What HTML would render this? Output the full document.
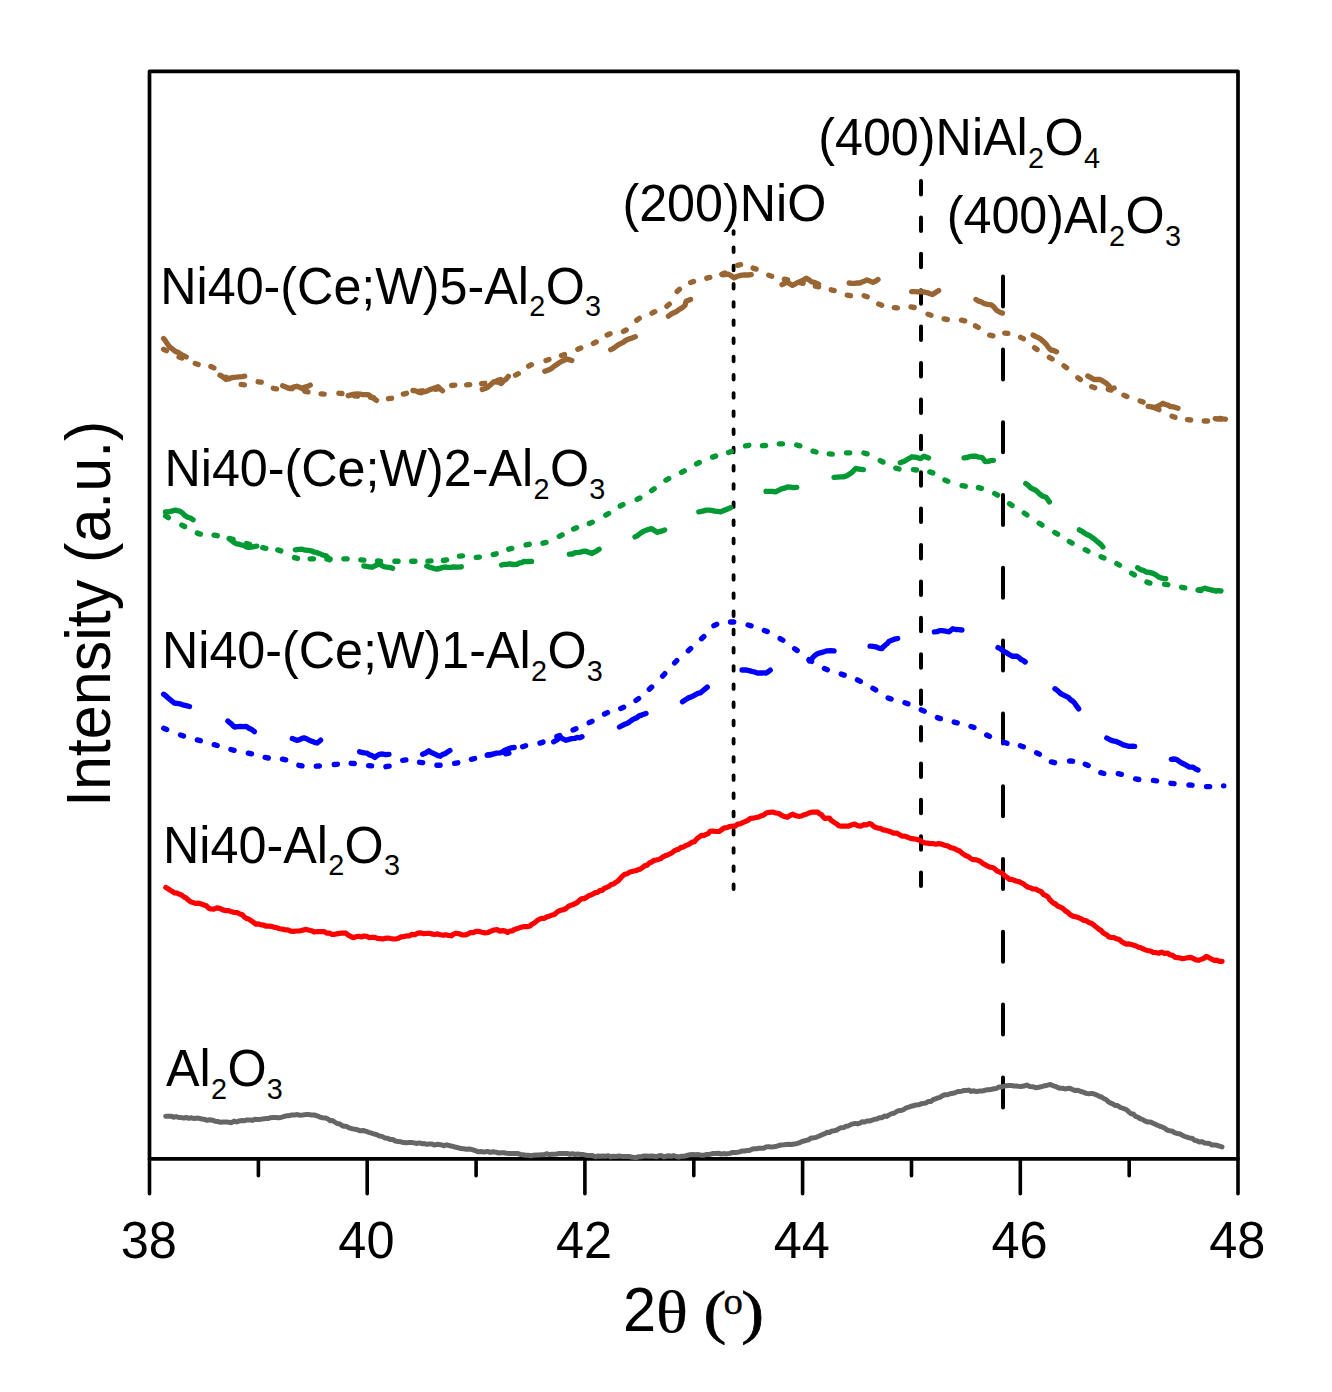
<!DOCTYPE html>
<html><head><meta charset="utf-8"><style>
html,body{margin:0;padding:0;background:#fff;}
svg{display:block;}
.t{font-family:"Liberation Sans",sans-serif;font-size:50.5px;fill:#000;}
.l{font-family:"Liberation Sans",sans-serif;fill:#000;}
.yt{font-family:"Liberation Sans",sans-serif;font-size:61px;fill:#000;}
.xt{font-family:"Liberation Sans",sans-serif;fill:#000;}
.serif{font-family:"Liberation Serif",serif;fill:#000;}
</style></head><body>
<svg width="1332" height="1392" viewBox="0 0 1332 1392">
<rect width="1332" height="1392" fill="#fff"/>
<rect x="149.5" y="71.3" width="1088.5" height="1087.6000000000001" fill="none" stroke="#000" stroke-width="3.7" stroke-linejoin="round"/>
<line x1="149.5" y1="1158.9" x2="149.5" y2="1193.7" stroke="#000" stroke-width="3.6" stroke-linecap="round"/>
<line x1="258.4" y1="1158.9" x2="258.4" y2="1175.7" stroke="#000" stroke-width="3.6" stroke-linecap="round"/>
<line x1="367.2" y1="1158.9" x2="367.2" y2="1193.7" stroke="#000" stroke-width="3.6" stroke-linecap="round"/>
<line x1="476.1" y1="1158.9" x2="476.1" y2="1175.7" stroke="#000" stroke-width="3.6" stroke-linecap="round"/>
<line x1="584.9" y1="1158.9" x2="584.9" y2="1193.7" stroke="#000" stroke-width="3.6" stroke-linecap="round"/>
<line x1="693.8" y1="1158.9" x2="693.8" y2="1175.7" stroke="#000" stroke-width="3.6" stroke-linecap="round"/>
<line x1="802.6" y1="1158.9" x2="802.6" y2="1193.7" stroke="#000" stroke-width="3.6" stroke-linecap="round"/>
<line x1="911.5" y1="1158.9" x2="911.5" y2="1175.7" stroke="#000" stroke-width="3.6" stroke-linecap="round"/>
<line x1="1020.3" y1="1158.9" x2="1020.3" y2="1193.7" stroke="#000" stroke-width="3.6" stroke-linecap="round"/>
<line x1="1129.2" y1="1158.9" x2="1129.2" y2="1175.7" stroke="#000" stroke-width="3.6" stroke-linecap="round"/>
<line x1="1238.0" y1="1158.9" x2="1238.0" y2="1193.7" stroke="#000" stroke-width="3.6" stroke-linecap="round"/>
<text transform="translate(148.7,1258) scale(1,1.04)" text-anchor="middle" class="t">38</text>
<text transform="translate(366.4,1258) scale(1,1.04)" text-anchor="middle" class="t">40</text>
<text transform="translate(584.1,1258) scale(1,1.04)" text-anchor="middle" class="t">42</text>
<text transform="translate(801.8,1258) scale(1,1.04)" text-anchor="middle" class="t">44</text>
<text transform="translate(1019.5,1258) scale(1,1.04)" text-anchor="middle" class="t">46</text>
<text transform="translate(1237.2,1258) scale(1,1.04)" text-anchor="middle" class="t">48</text>
<line x1="733.6" y1="231.1" x2="733.6" y2="889" stroke="#000" stroke-width="3.8" stroke-dasharray="4.6 13.6" stroke-dashoffset="1.8" stroke-linecap="round"/>
<line x1="921" y1="181" x2="921" y2="886" stroke="#000" stroke-width="4" stroke-dasharray="13.5 22.9" stroke-linecap="round"/>
<line x1="1003" y1="276.6" x2="1003" y2="1108" stroke="#000" stroke-width="4" stroke-dasharray="30 42.8" stroke-linecap="round"/>
<path d="M163.6,349.3 L166.4,350.7 M179.0,356.9 L182.0,358.1 M195.2,363.5 L198.2,364.5 M210.9,366.5 L213.9,367.9 M226.2,377.2 L229.0,378.8 M241.2,384.4 L244.4,384.8 M258.1,381.8 L261.3,382.2 M273.3,388.3 L276.5,388.9 M288.9,388.3 L292.1,388.7 M304.8,391.3 L308.0,391.9 M321.0,393.9 L324.2,394.1 M338.8,393.3 L342.0,393.5 M354.4,395.8 L357.6,396.2 M370.4,397.4 L373.6,397.6 M388.4,398.7 L391.6,398.3 M403.3,394.1 L406.5,393.3 M419.4,391.2 L422.6,390.8 M435.4,389.3 L438.6,388.7 M451.6,385.5 L454.8,385.1 M466.6,384.8 L469.8,384.6 M481.6,383.7 L484.8,383.3 M497.5,380.4 L500.5,379.6 M515.5,375.1 L518.3,373.7 M528.6,366.1 L531.4,364.7 M546.0,360.5 L549.0,359.5 M561.5,355.5 L564.5,354.5 M577.8,349.2 L580.8,348.0 M593.4,343.4 L596.2,342.0 M607.1,334.9 L610.1,333.7 M623.4,331.4 L626.2,330.0 M636.7,320.2 L639.3,318.4 M652.0,313.1 L654.8,311.7 M666.9,306.3 L669.3,304.1 M677.1,291.5 L679.5,289.3 M690.6,282.6 L693.6,281.4 M706.8,278.2 L709.8,277.4 M721.8,274.2 L724.8,273.0 M737.4,265.3 L740.6,264.7 M753.1,268.1 L756.1,269.1 M768.7,275.3 L771.7,276.3 M784.4,279.1 L787.6,279.9 M799.9,282.6 L803.1,283.4 M815.4,286.1 L818.6,286.9 M831.2,289.8 L834.2,290.6 M847.3,295.1 L850.5,295.7 M864.2,295.7 L867.2,296.7 M878.7,304.1 L881.7,305.3 M894.2,307.7 L897.4,307.9 M911.0,306.9 L914.2,307.5 M928.0,314.2 L931.0,315.2 M944.1,318.9 L947.3,319.5 M961.5,320.1 L964.7,320.9 M975.5,325.9 L978.3,327.5 M989.7,335.1 L992.9,335.9 M1004.7,333.2 L1007.9,333.4 M1020.6,337.3 L1023.4,338.7 M1034.5,347.7 L1037.1,349.5 M1049.4,357.4 L1052.2,359.0 M1064.0,365.9 L1066.6,367.7 M1077.8,377.7 L1080.4,379.5 M1091.7,386.7 L1094.7,387.7 M1108.2,389.3 L1111.2,390.1 M1123.9,395.2 L1126.9,396.4 M1140.1,400.9 L1143.1,402.1 M1156.1,408.3 L1158.9,409.7 M1172.0,416.3 L1175.0,417.3 M1187.5,419.6 L1190.7,420.0 M1204.3,421.0 L1207.5,421.0 M1220.9,419.0 L1221.1,419.0" fill="none" stroke="#996633" stroke-width="5.35" stroke-linecap="round" stroke-linejoin="round"/>
<path d="M163.6,338.6 L165.1,340.3 L166.6,342.7 L168.1,344.8 L169.6,346.9 L172.4,349.0 L175.3,351.4 L177.5,352.1 L179.8,353.6 L182.0,354.8 L186.2,356.9 M220.0,375.2 L223.0,376.9 L226.0,379.5 L228.6,378.7 L231.2,377.8 L233.8,377.3 L236.5,377.1 L239.3,376.8 L242.0,376.6 L244.7,376.2 M282.6,385.8 L285.1,386.7 L287.5,387.7 L290.0,388.6 L293.4,387.2 L296.9,386.3 L299.5,387.2 L302.2,388.6 L304.9,387.0 L307.6,386.4 L310.3,385.1 M348.2,395.7 L351.3,394.9 L354.4,394.2 L357.5,394.0 L360.2,394.2 L362.9,394.6 L365.6,394.7 L368.3,394.6 L370.3,396.2 L372.4,397.7 L374.4,398.8 L376.5,400.4 M413.0,390.5 L415.7,390.9 L418.4,392.2 L421.1,392.8 L423.9,391.8 L426.7,391.2 L429.5,389.8 L432.3,388.9 L435.2,387.7 L438.0,386.8 L440.2,388.9 L442.5,390.8 M482.3,389.4 L485.1,388.5 L488.0,387.0 L490.0,385.3 L492.0,383.3 L494.0,381.7 L496.4,382.0 L498.9,382.5 L501.3,383.5 L503.6,380.8 L506.0,379.2 L508.3,376.4 M544.8,371.3 L547.1,370.4 L549.4,369.5 L551.7,368.4 L554.1,366.2 L556.5,364.7 L558.9,363.0 L561.3,361.5 L563.7,360.6 L566.1,358.8 L569.0,359.6 L571.8,360.5 M610.7,349.7 L613.0,348.6 L615.3,347.0 L617.7,345.1 L620.0,343.9 L622.8,342.6 L625.6,340.5 L628.4,339.1 L631.9,338.1 L635.3,336.8 M668.4,316.2 L671.1,314.2 L673.8,312.7 L676.5,311.5 L678.6,309.8 L680.7,308.7 L682.8,307.3 L684.9,305.5 L686.1,301.2 L690.6,299.5 M722.4,274.8 L725.2,274.5 L728.1,274.2 L731.1,275.7 L734.1,277.8 L736.7,276.5 L739.4,275.7 L742.0,275.2 L745.1,274.8 L748.2,275.0 L751.3,274.6 M782.0,284.6 L784.2,283.5 L786.5,281.8 L789.5,283.5 L792.5,285.4 L794.9,284.2 L797.3,282.7 L799.7,281.8 L801.9,280.7 L804.1,279.7 L806.3,278.2 L809.0,279.8 L811.7,281.8 L815.2,282.6 L818.6,284.1 M849.2,283.0 L851.8,283.3 L854.5,283.3 L857.1,283.0 L859.7,283.0 L862.1,281.9 L864.6,281.0 L867.0,280.0 L870.0,281.1 L873.0,282.4 L875.5,281.2 L878.0,279.5 M911.7,291.6 L914.6,291.6 L917.6,291.8 L920.5,291.6 L924.1,292.0 L927.7,292.8 L930.1,293.7 L932.5,294.6 L935.6,292.6 L938.7,290.6 M976.0,299.5 L978.7,301.2 L981.4,301.9 L984.1,303.6 L987.7,304.3 L991.3,304.8 L993.3,306.4 L995.3,308.8 L997.3,310.8 L999.9,312.3 L1002.4,313.1 M1033.1,335.1 L1035.4,336.4 L1037.7,337.4 L1040.0,338.6 L1042.0,340.3 L1044.0,342.1 L1046.0,344.0 L1047.6,346.3 L1049.2,348.3 L1050.8,350.0 L1053.7,350.5 L1056.5,351.7 M1087.8,376.0 L1090.9,377.6 L1094.0,379.5 L1097.0,379.5 L1100.0,379.5 L1103.0,381.2 L1106.0,383.0 L1108.0,384.9 L1110.0,387.1 L1112.0,388.5 L1114.2,388.0 M1148.2,406.4 L1151.3,406.8 L1154.5,407.7 L1157.3,406.4 L1160.2,405.1 L1163.0,403.3 L1165.5,404.5 L1168.0,405.2 L1170.5,406.6 L1173.0,406.7 L1175.5,407.5 L1178.0,408.3 M1215.2,418.6 L1217.7,419.0 L1220.3,418.5 L1222.9,418.9 L1225.4,419.2" fill="none" stroke="#996633" stroke-width="5.35" stroke-linecap="round" stroke-linejoin="round"/>
<path d="M165.6,516.0 L168.4,517.6 M181.8,525.1 L184.6,526.5 M197.3,533.1 L200.3,534.1 M214.1,535.1 L217.3,535.7 M230.0,538.6 L233.0,539.4 M246.5,543.6 L249.5,544.4 M262.7,547.7 L265.9,548.3 M277.8,549.9 L280.8,550.9 M294.5,557.6 L297.5,558.4 M310.2,558.8 L313.4,558.8 M326.9,559.0 L330.1,559.0 M343.9,558.8 L347.1,558.8 M360.7,559.9 L363.9,560.1 M377.4,560.9 L380.6,561.1 M394.9,561.2 L398.1,561.2 M411.7,561.2 L414.9,561.2 M427.9,561.1 L431.1,560.9 M443.4,560.5 L446.6,559.9 M459.4,556.1 L462.6,555.9 M476.2,557.3 L479.4,557.1 M493.2,554.6 L496.2,553.8 M508.8,549.2 L511.8,548.4 M526.1,544.9 L529.3,544.3 M543.0,543.2 L546.0,542.4 M559.3,536.3 L562.1,534.9 M573.6,529.0 L576.6,527.8 M589.3,523.4 L592.3,522.2 M605.8,515.1 L608.6,513.5 M620.2,506.0 L623.0,504.6 M637.1,499.4 L639.9,498.0 M651.6,490.6 L654.2,488.8 M665.9,480.2 L668.7,478.6 M681.5,472.3 L684.3,470.9 M696.5,463.9 L699.3,462.5 M712.6,457.1 L715.6,456.1 M728.5,452.5 L731.5,451.5 M745.6,445.9 L748.8,445.3 M762.4,445.7 L765.6,445.5 M779.3,443.8 L782.5,443.8 M796.7,445.0 L799.9,445.8 M813.0,451.2 L816.0,452.0 M829.1,453.9 L832.3,454.1 M846.5,452.8 L849.7,452.8 M863.9,453.0 L867.1,453.8 M880.2,460.6 L883.0,462.0 M895.8,468.2 L899.0,469.0 M913.4,469.6 L916.6,470.0 M929.8,471.9 L932.8,472.9 M944.8,480.0 L947.8,481.2 M962.1,485.6 L965.3,486.2 M978.4,487.6 L981.4,488.4 M994.7,493.5 L997.5,495.1 M1009.5,503.7 L1012.1,505.5 M1024.3,513.1 L1026.9,514.9 M1039.2,523.3 L1042.0,525.1 M1054.8,532.5 L1057.6,534.1 M1069.3,541.5 L1072.1,543.1 M1085.2,549.7 L1088.0,551.1 M1101.0,556.7 L1104.0,557.9 M1116.8,563.6 L1119.6,565.2 M1131.6,573.3 L1134.4,574.9 M1146.9,582.1 L1149.9,583.1 M1164.6,584.3 L1167.8,584.7 M1181.6,587.3 L1184.8,587.9 M1198.0,590.1 L1201.2,590.5 M1215.9,591.0 L1216.1,591.0" fill="none" stroke="#009933" stroke-width="5.35" stroke-linecap="round" stroke-linejoin="round"/>
<path d="M165.5,512.0 L168.0,512.0 L170.6,511.4 L175.4,510.2 L180.2,511.4 L182.6,513.2 L185.0,515.6 L187.7,517.2 L190.4,518.0 L193.1,519.7 M229.1,538.6 L231.7,540.6 L234.3,542.6 L236.7,543.8 L239.1,544.2 L241.5,545.0 L243.9,545.5 L246.3,546.8 L248.7,547.4 L251.4,547.1 L254.1,546.6 L256.8,546.2 M295.3,549.8 L298.7,549.4 L302.2,549.2 L305.4,550.2 L308.6,550.3 L311.8,551.0 L314.2,552.2 L316.6,552.5 L319.0,553.4 L321.4,554.4 L323.8,555.3 L326.2,555.8 L327.9,557.8 L329.6,559.8 M363.8,566.0 L366.5,566.4 L369.2,566.8 L371.9,567.2 L374.9,565.9 L377.9,564.2 L380.7,564.8 L383.5,566.5 L386.3,567.2 L389.5,567.4 L392.6,568.3 M426.8,566.1 L429.3,567.1 L431.7,567.7 L434.2,568.6 L436.7,569.0 L439.5,568.5 L442.2,567.6 L445.0,567.0 L447.9,567.3 L450.8,567.4 L453.4,566.9 L456.1,567.2 L458.7,567.1 L461.3,566.8 M501.6,565.0 L504.3,564.3 L507.0,564.3 L509.7,563.8 L513.3,564.5 L516.9,564.4 L519.3,563.0 L521.7,562.7 L524.1,561.4 L526.6,561.7 L529.1,561.5 L531.6,561.4 M569.4,554.1 L572.3,554.0 L575.2,552.6 L578.1,552.4 L580.7,552.1 L583.4,551.2 L586.0,551.2 L589.0,552.4 L592.0,553.6 L594.4,552.1 L596.8,550.9 L599.1,549.3 M635.0,536.9 L637.6,535.6 L640.1,533.4 L642.7,531.7 L645.7,530.4 L648.7,529.3 L651.7,528.7 L654.4,530.5 L657.1,532.3 L659.6,531.6 L662.1,530.9 L664.6,530.0 M698.8,511.8 L701.3,511.4 L703.7,510.9 L706.2,510.1 L708.7,510.1 L711.7,510.4 L714.7,511.2 L717.7,511.4 L720.7,511.9 L723.2,510.8 L725.7,509.7 L728.2,508.7 L730.7,507.6 M766.1,491.3 L769.2,491.4 L772.4,491.3 L775.5,491.9 L778.5,490.3 L781.5,488.9 L784.5,488.2 L787.5,487.0 L790.6,487.2 L793.7,487.7 L796.8,487.4 M834.0,477.4 L837.3,477.1 L840.6,476.8 L843.9,476.8 L846.9,475.7 L849.9,473.8 L851.9,472.3 L853.9,470.3 L855.9,468.4 L858.4,469.0 L860.9,469.3 L863.4,469.6 M900.3,462.7 L904.8,461.0 L907.2,459.5 L909.6,458.2 L912.0,456.8 L914.8,457.2 L917.7,457.7 L920.5,458.6 L924.0,456.2 L928.6,457.9 M964.0,457.9 L967.1,457.5 L970.2,456.4 L973.3,456.2 L976.1,456.2 L978.9,457.2 L981.7,457.4 L983.5,459.2 L985.3,461.6 L988.0,461.4 L990.7,460.7 L993.4,460.4 M1025.8,483.6 L1028.1,485.2 L1030.4,487.6 L1032.8,489.0 L1035.2,490.0 L1037.6,491.8 L1040.0,494.3 L1042.4,496.0 L1046.0,497.2 L1047.7,499.5 L1049.4,501.8 M1079.4,529.9 L1081.9,531.3 L1084.4,533.0 L1086.9,534.5 L1089.9,535.9 L1092.9,538.1 L1094.9,539.4 L1096.9,541.2 L1098.9,542.9 L1100.9,544.6 L1102.9,546.9 M1137.6,567.7 L1140.4,569.6 L1143.3,570.3 L1146.1,572.0 L1149.5,572.4 L1152.9,573.4 L1155.5,574.7 L1158.2,576.7 L1160.8,577.8 L1163.3,578.3 L1165.8,578.7 M1198.6,589.9 L1201.6,589.4 L1204.7,588.1 L1208.1,589.2 L1211.5,590.0 L1214.7,590.6 L1217.8,590.6 L1221.0,591.0" fill="none" stroke="#009933" stroke-width="5.35" stroke-linecap="round" stroke-linejoin="round"/>
<path d="M163.7,728.2 L166.7,729.4 M180.5,735.0 L183.5,736.0 M197.3,739.9 L200.3,740.7 M214.2,744.7 L217.2,745.5 M230.9,749.5 L234.1,750.3 M248.3,753.1 L251.5,753.9 M265.1,757.4 L268.3,758.0 M282.5,759.1 L285.7,759.9 M298.8,765.3 L302.0,765.9 M316.2,766.2 L319.4,766.0 M334.2,764.5 L337.4,764.3 M351.1,763.3 L354.3,763.5 M368.5,765.7 L371.7,765.9 M385.9,766.7 L389.1,766.1 M402.7,760.3 L405.9,759.9 M419.5,762.3 L422.7,762.7 M436.9,765.2 L440.1,765.2 M454.6,763.4 L457.8,762.8 M471.4,759.3 L474.6,758.5 M487.6,754.9 L490.8,754.5 M505.7,753.9 L508.9,753.1 M522.6,746.7 L525.6,745.7 M540.0,743.1 L543.0,742.1 M556.8,736.6 L559.8,735.4 M573.0,730.0 L576.0,728.8 M589.2,722.7 L592.0,721.3 M604.5,714.0 L607.5,712.6 M620.7,708.5 L623.7,707.3 M636.0,700.4 L638.6,698.6 M649.3,689.2 L651.7,687.0 M662.6,676.1 L664.8,673.7 M674.6,662.8 L676.8,660.6 M688.3,650.7 L690.7,648.5 M701.5,638.7 L703.9,636.5 M713.9,625.7 L716.7,624.3 M730.5,622.0 L733.7,622.0 M748.1,625.0 L751.1,625.8 M764.3,630.4 L767.3,631.6 M780.1,638.6 L782.9,640.2 M794.6,648.7 L797.2,650.5 M809.0,659.6 L811.6,661.4 M824.4,668.5 L827.4,669.7 M841.2,674.1 L844.2,675.1 M857.4,679.9 L860.4,681.3 M872.9,688.3 L875.7,689.9 M888.1,697.9 L891.1,699.1 M904.9,702.8 L907.9,703.8 M921.2,709.8 L924.2,711.2 M937.4,717.6 L940.4,718.6 M954.2,722.1 L957.2,722.9 M971.0,726.4 L974.0,727.6 M986.7,735.0 L989.5,736.4 M1004.0,742.3 L1007.0,743.3 M1020.3,745.8 L1023.3,746.8 M1036.6,752.8 L1039.4,754.2 M1051.4,761.9 L1054.6,762.7 M1069.5,761.0 L1072.7,761.2 M1085.2,764.3 L1088.2,765.5 M1100.8,772.7 L1103.8,773.5 M1118.2,773.7 L1121.4,774.3 M1135.6,778.9 L1138.8,779.5 M1153.4,780.4 L1156.6,780.8 M1170.9,783.3 L1174.1,783.7 M1188.9,785.0 L1192.1,785.2 M1206.5,786.6 L1209.7,786.6 M1223.6,785.8 L1223.8,785.8" fill="none" stroke="#0000ff" stroke-width="5.35" stroke-linecap="round" stroke-linejoin="round"/>
<path d="M163.6,694.2 L165.9,695.8 L168.2,698.2 L170.2,699.7 L172.2,701.3 L174.2,703.0 L177.0,703.4 L179.8,703.8 L182.6,704.8 L186.1,705.6 L189.5,706.5 M227.9,721.2 L230.0,722.8 L232.2,724.8 L234.3,727.0 L237.3,726.6 L240.3,726.4 L243.3,726.6 L246.3,726.4 L249.0,728.3 L251.7,729.5 L254.4,731.6 M292.3,738.6 L296.7,740.3 L299.1,739.9 L301.6,738.6 L304.0,737.9 L306.6,738.8 L309.2,740.3 L311.8,741.2 L314.5,742.3 L317.2,743.0 L320.6,740.2 M359.6,751.8 L362.1,752.5 L364.6,752.9 L367.1,753.2 L369.7,754.9 L372.3,755.8 L374.9,757.4 L377.0,755.7 L379.1,754.4 L382.4,754.0 L385.7,754.7 L389.0,754.4 M422.6,754.3 L425.7,753.0 L428.9,750.8 L431.1,752.4 L433.3,753.3 L435.5,754.4 L437.9,755.7 L440.3,756.2 L442.7,754.4 L445.1,753.7 L447.5,752.1 L449.9,750.6 M487.1,755.2 L490.0,755.0 L492.9,754.1 L496.5,753.2 L500.1,752.9 L502.5,752.0 L504.9,750.2 L507.3,749.2 L510.8,747.9 L514.2,747.5 M553.7,741.8 L555.9,740.5 L558.0,739.0 L560.1,737.2 L563.1,739.0 L566.1,740.2 L568.9,739.4 L571.7,738.7 L574.5,738.4 L577.0,737.4 L579.5,737.7 L582.0,736.7 M619.5,727.0 L622.0,725.7 L624.5,724.3 L627.0,723.5 L629.4,722.0 L631.8,720.1 L634.2,718.7 L636.6,717.9 L639.1,715.9 L641.5,715.1 L646.0,713.4 M682.5,701.7 L685.9,699.5 L688.3,697.9 L690.7,697.1 L693.1,696.0 L695.5,694.7 L697.9,693.4 L700.3,692.9 L702.6,691.0 L704.9,689.1 L707.3,687.1 M742.1,670.0 L745.5,669.9 L749.0,670.7 L751.8,671.4 L754.6,672.0 L757.4,673.1 L760.2,673.0 L763.0,672.9 L765.8,673.1 L768.1,671.8 L770.3,670.2 M809.3,660.8 L811.6,659.0 L814.0,656.3 L816.3,654.4 L818.7,653.3 L821.1,652.6 L824.1,651.7 L827.1,650.8 L830.5,650.7 L834.0,650.8 M870.1,646.2 L872.9,646.3 L875.8,646.8 L878.8,648.1 L881.8,648.6 L883.6,646.7 L885.4,645.0 L887.2,643.6 L889.0,641.4 L891.9,640.2 L894.8,639.1 L897.7,638.5 M934.4,631.8 L936.9,631.7 L939.4,630.6 L941.9,630.6 L945.5,631.2 L949.1,631.8 L952.7,628.8 L955.8,629.5 L958.9,629.7 L962.0,630.0 M998.0,647.6 L1000.1,648.6 L1002.2,650.2 L1004.3,651.6 L1006.9,652.9 L1009.6,654.7 L1012.2,656.2 L1017.0,656.2 L1019.0,657.6 L1021.1,659.5 L1023.1,660.4 L1025.2,662.0 M1055.0,688.8 L1057.6,690.6 L1060.1,693.1 L1062.7,694.7 L1065.7,696.2 L1068.7,697.7 L1070.7,699.9 L1072.7,701.1 L1074.7,703.1 L1076.7,706.2 L1078.7,708.9 M1106.8,738.0 L1109.9,739.8 L1113.1,740.9 L1115.5,741.3 L1117.9,742.3 L1120.3,743.3 L1123.3,744.9 L1126.3,745.7 L1129.1,746.3 L1131.9,746.1 L1134.7,746.4 M1171.3,759.3 L1173.8,759.0 L1176.4,759.3 L1179.3,761.4 L1182.2,763.2 L1184.5,764.2 L1186.8,765.6 L1189.1,767.1 L1193.0,767.1 L1195.5,768.9 L1198.0,769.9" fill="none" stroke="#0000ff" stroke-width="5.35" stroke-linecap="round" stroke-linejoin="round"/>
<polyline points="165.8,887.5 168.0,888.8 170.3,890.3 172.5,891.5 174.8,893.0 177.0,893.2 179.2,894.1 181.5,895.0 183.8,896.8 186.0,897.9 188.2,900.0 190.5,901.7 193.2,902.6 195.9,903.5 198.6,903.1 201.3,904.0 204.0,905.0 206.3,905.7 208.5,908.1 210.8,909.0 213.8,909.1 216.8,907.9 219.8,908.4 222.8,909.9 225.8,910.6 228.8,910.7 231.6,911.8 234.4,912.5 237.2,912.7 240.0,914.0 242.3,914.8 244.5,917.1 246.8,918.6 249.1,919.3 251.4,920.9 253.6,922.4 255.9,924.2 258.5,923.9 261.1,924.9 263.8,925.2 266.4,926.2 269.0,926.1 271.6,926.4 274.3,927.3 277.0,927.8 279.6,928.7 282.3,929.1 285.0,929.8 287.9,929.8 290.7,931.1 293.5,931.4 296.4,931.0 299.4,931.0 302.4,930.2 305.4,929.4 308.4,930.0 311.4,930.7 314.4,932.0 317.8,931.5 321.2,931.6 323.9,931.5 326.6,933.1 329.3,933.1 332.0,934.3 334.7,934.3 338.0,933.6 341.4,933.2 346.0,933.2 348.6,935.4 351.2,936.7 353.8,937.7 356.4,936.5 358.9,936.4 361.4,937.0 364.0,936.0 366.7,936.4 369.4,937.7 372.1,937.3 374.8,937.3 377.5,938.4 380.1,938.7 382.7,939.0 385.4,938.3 388.0,938.0 390.6,938.5 393.2,938.8 395.8,939.0 398.5,938.3 401.1,936.8 403.7,936.6 406.4,935.9 409.0,936.0 412.0,934.4 415.0,934.6 418.0,933.2 420.7,932.9 423.4,933.6 426.1,933.5 428.8,933.3 431.5,933.9 434.5,934.5 437.5,933.9 440.5,934.8 443.2,935.3 445.9,934.7 448.6,935.4 451.3,935.8 453.6,934.1 455.8,933.3 459.1,933.8 462.5,935.0 465.2,935.0 467.9,934.0 470.6,932.5 473.3,932.6 476.0,931.3 479.0,931.4 482.0,932.2 485.0,932.9 488.0,932.5 491.0,931.2 494.0,930.0 497.0,929.6 500.0,931.1 503.0,930.6 505.3,931.1 507.6,932.4 509.9,931.1 512.1,931.0 514.4,929.4 516.6,928.8 519.3,927.9 522.0,927.0 524.6,926.5 527.3,926.7 530.0,926.0 532.2,924.0 534.5,922.9 536.8,920.9 539.0,919.4 541.7,918.4 544.4,918.3 547.2,916.7 549.9,915.9 552.6,914.9 554.9,914.2 557.1,912.0 559.4,910.7 561.6,910.0 563.9,909.6 566.1,908.4 568.4,906.4 570.6,905.3 572.9,904.7 575.1,903.6 577.4,902.4 579.6,900.2 581.9,898.6 584.1,898.6 586.4,897.4 588.6,895.7 590.9,895.0 593.2,893.9 595.4,892.6 597.7,892.3 600.0,890.4 602.2,890.5 604.5,888.2 606.7,887.4 609.0,886.4 611.2,884.5 613.5,884.0 615.7,882.4 618.0,881.0 620.2,878.5 622.5,876.0 624.7,874.3 627.4,873.7 630.1,871.9 632.8,871.2 635.5,870.8 638.2,869.8 640.5,869.0 642.7,867.4 645.0,865.6 647.2,865.2 649.5,862.9 651.7,862.0 654.0,860.4 656.2,860.0 658.5,859.4 660.7,858.6 663.0,856.8 665.2,855.8 667.5,855.0 669.7,854.0 672.0,852.8 674.2,850.8 676.5,849.8 678.7,849.2 681.0,847.3 683.2,847.1 685.5,845.7 687.8,844.8 690.0,843.7 692.2,842.1 694.5,841.7 696.8,838.8 699.0,837.2 701.2,835.4 703.5,835.7 705.8,834.4 708.0,833.8 710.2,831.3 712.5,831.0 715.9,831.5 719.3,831.5 721.8,829.6 724.2,827.8 727.0,827.6 729.8,826.5 732.6,826.2 735.1,826.2 737.5,824.1 740.0,824.0 742.6,822.7 745.2,821.6 747.9,820.4 750.5,818.4 752.9,818.2 755.2,817.7 757.6,817.3 760.0,816.3 763.1,815.3 766.2,813.1 769.4,812.3 772.6,812.0 775.8,813.0 778.9,813.5 781.7,815.4 784.5,816.6 787.3,817.3 789.9,815.6 792.5,814.2 795.6,815.7 798.8,816.3 801.5,816.0 804.3,814.7 807.0,813.9 809.8,812.7 812.5,812.0 815.1,812.1 817.8,812.0 819.6,813.8 821.4,814.6 823.2,817.0 825.0,818.4 829.3,818.0 831.2,820.3 833.1,821.6 835.0,823.0 836.9,824.0 838.8,825.7 841.9,826.2 845.1,826.2 848.2,826.2 851.4,825.0 854.5,824.0 857.6,825.6 860.8,826.2 863.6,824.7 866.5,824.8 869.3,823.6 871.4,824.2 873.5,826.3 875.6,827.4 878.1,828.1 880.6,828.4 883.2,829.9 885.7,830.3 888.2,831.0 890.8,831.9 893.5,833.2 896.1,833.0 898.7,834.1 901.8,836.2 904.7,836.1 907.6,837.2 910.5,838.4 913.4,838.8 916.2,839.3 919.0,840.1 921.8,841.5 924.6,842.8 927.4,843.1 930.2,843.6 933.0,843.5 935.8,844.2 938.6,843.6 941.4,844.0 944.2,845.2 947.0,845.7 951.2,847.8 954.0,848.4 956.8,849.8 959.6,851.0 961.7,852.9 963.8,854.4 966.0,855.8 968.1,856.4 970.2,858.1 972.3,859.4 976.5,859.8 978.6,860.7 980.7,861.7 982.8,863.4 984.9,864.6 987.7,866.2 990.5,867.3 993.3,867.8 995.4,869.5 997.4,871.2 999.5,871.9 1001.5,873.0 1003.4,874.4 1005.4,876.3 1007.3,877.5 1009.3,879.3 1011.7,879.4 1014.1,880.3 1016.6,881.2 1019.0,881.6 1021.3,882.8 1023.6,883.8 1025.8,885.8 1028.1,887.3 1030.4,887.7 1032.7,889.0 1035.7,889.2 1038.6,890.6 1041.2,891.7 1043.8,894.7 1046.4,895.9 1048.1,897.0 1049.8,899.8 1051.5,901.3 1053.2,903.0 1055.5,904.0 1057.7,906.1 1060.0,907.0 1062.0,907.8 1063.9,909.4 1065.9,911.4 1067.8,912.2 1069.8,914.4 1072.7,916.1 1075.6,916.8 1078.2,917.6 1080.9,918.6 1083.5,920.3 1086.1,920.6 1088.7,922.4 1091.3,923.2 1093.2,924.6 1095.2,926.3 1097.1,927.8 1099.1,929.4 1101.0,930.4 1103.0,932.7 1104.9,933.9 1106.8,934.8 1108.8,936.9 1111.4,937.5 1114.0,937.7 1116.6,938.8 1119.2,939.6 1121.8,941.8 1124.4,943.3 1126.8,944.2 1129.1,943.9 1131.5,944.6 1133.8,945.2 1136.2,946.0 1138.5,947.2 1140.9,947.8 1143.2,948.9 1145.6,950.0 1147.9,950.5 1150.5,951.0 1153.1,952.3 1155.7,952.5 1158.6,953.2 1161.6,952.1 1164.5,953.5 1167.4,953.0 1170.0,954.8 1172.6,955.4 1175.2,957.4 1177.7,957.6 1180.1,958.0 1182.5,958.7 1185.0,958.3 1187.9,957.7 1190.8,957.4 1193.4,958.5 1196.0,959.9 1198.6,960.3 1201.2,959.4 1203.8,958.4 1206.4,956.4 1209.0,957.6 1211.6,959.2 1214.2,960.3 1216.8,960.2 1219.4,961.3 1222.0,961.3" fill="none" stroke="#ff0000" stroke-width="5.2" stroke-linecap="round" stroke-linejoin="round"/>
<polyline points="165.8,1116.2 168.4,1116.2 170.9,1116.2 173.5,1117.2 176.1,1116.6 178.7,1117.5 181.2,1117.6 183.8,1118.0 186.4,1117.5 188.9,1118.3 191.5,1117.8 194.1,1118.5 196.7,1118.1 199.2,1118.3 201.8,1119.0 204.4,1119.3 207.1,1120.3 209.7,1119.7 212.3,1120.2 215.0,1121.2 217.6,1121.4 220.4,1122.3 223.2,1122.0 226.0,1121.9 228.8,1122.3 231.4,1122.7 234.1,1121.1 236.7,1122.0 239.3,1120.9 242.0,1120.5 244.6,1120.7 247.2,1119.9 249.7,1119.9 252.3,1120.4 254.9,1119.3 257.5,1119.6 260.0,1119.4 262.6,1119.0 265.2,1118.6 267.9,1118.6 270.5,1117.7 273.1,1117.5 275.8,1117.5 278.4,1117.7 281.1,1117.4 283.8,1116.5 286.5,1115.8 289.2,1115.7 291.9,1115.0 294.6,1114.9 297.3,1114.6 300.0,1115.2 302.7,1115.0 305.4,1114.6 308.4,1114.4 311.4,1115.0 314.4,1115.0 317.1,1115.8 319.8,1117.1 322.6,1117.7 325.3,1117.9 328.0,1119.0 330.2,1120.7 332.5,1120.6 334.7,1122.0 337.0,1123.5 339.2,1123.7 341.5,1125.2 343.7,1126.3 346.4,1126.3 349.1,1127.9 351.8,1128.7 354.5,1129.1 357.2,1129.7 360.2,1130.8 363.2,1130.5 366.2,1131.3 368.8,1132.4 371.5,1133.1 374.1,1134.0 376.7,1134.6 379.4,1136.0 382.0,1136.4 384.7,1137.9 387.4,1138.2 390.1,1139.4 392.8,1139.5 395.5,1141.0 398.2,1141.6 400.9,1141.8 403.6,1142.6 406.3,1142.7 409.0,1142.5 411.6,1142.5 414.1,1142.9 416.7,1143.5 419.3,1142.9 421.9,1143.7 424.4,1143.6 427.0,1144.3 429.4,1143.9 431.9,1143.9 434.3,1145.1 436.8,1144.3 439.2,1144.6 441.7,1144.9 444.1,1145.8 446.6,1144.8 449.0,1145.5 452.0,1146.2 455.0,1147.0 458.0,1147.7 460.8,1148.6 463.6,1148.8 466.5,1149.2 469.3,1149.0 472.3,1149.6 475.3,1150.7 478.3,1151.8 481.3,1151.5 484.3,1152.1 487.3,1151.4 490.1,1152.4 493.0,1151.7 495.8,1152.1 498.6,1153.0 501.3,1152.7 504.0,1152.8 506.6,1153.2 509.3,1153.4 512.0,1153.4 514.7,1153.4 517.4,1153.4 520.2,1154.4 522.9,1154.7 525.6,1155.2 528.2,1155.2 530.9,1155.7 533.5,1155.2 536.1,1154.9 538.8,1154.9 541.4,1154.7 544.0,1154.8 546.5,1153.7 549.1,1154.7 551.7,1154.3 554.3,1154.3 556.8,1154.0 559.4,1153.4 562.0,1153.4 564.6,1153.6 567.2,1153.4 569.8,1154.3 572.4,1153.7 575.0,1154.5 577.9,1154.1 580.7,1154.4 583.5,1154.6 586.4,1155.2 589.4,1155.5 592.4,1155.6 595.4,1156.8 598.0,1156.0 600.5,1156.2 603.1,1156.0 605.7,1156.3 608.3,1155.8 610.8,1156.9 613.4,1156.3 616.0,1156.6 618.5,1156.0 621.1,1156.3 623.7,1156.5 626.3,1156.6 628.8,1156.4 631.4,1157.0 633.9,1157.4 636.4,1157.5 638.9,1156.7 641.4,1156.7 644.0,1156.0 646.5,1156.0 649.0,1156.2 651.5,1156.0 654.0,1156.3 656.5,1156.8 658.9,1155.8 661.4,1155.6 663.8,1156.9 666.3,1156.3 668.7,1155.8 671.2,1156.4 673.6,1155.6 676.1,1156.3 678.5,1157.0 681.0,1156.3 684.0,1156.3 687.0,1155.5 690.0,1154.7 692.8,1154.5 695.6,1154.8 698.5,1154.6 701.3,1155.2 704.1,1155.2 706.9,1154.4 709.7,1154.4 712.5,1153.6 715.3,1153.4 718.1,1153.2 721.0,1154.0 723.8,1153.6 726.7,1153.9 729.7,1153.4 732.6,1152.5 735.0,1152.6 737.4,1152.3 739.8,1151.9 742.2,1150.9 744.6,1151.0 747.0,1150.5 749.4,1150.4 751.8,1149.3 754.1,1148.8 756.5,1148.7 758.9,1148.2 761.3,1148.3 763.6,1148.2 766.0,1147.0 768.4,1146.6 771.0,1147.0 773.5,1146.8 776.1,1146.5 778.7,1145.5 781.2,1145.0 783.8,1144.8 786.4,1144.5 788.9,1144.3 791.5,1144.5 794.0,1144.0 796.5,1143.7 799.0,1142.9 801.5,1141.7 804.0,1141.0 806.3,1140.4 808.7,1139.8 811.0,1138.0 813.3,1137.9 815.7,1137.5 818.0,1136.5 820.3,1135.6 822.7,1134.4 825.0,1133.6 827.3,1132.3 829.7,1132.4 832.0,1130.9 834.3,1130.7 836.7,1130.1 839.0,1128.5 841.3,1127.7 843.7,1127.6 846.0,1126.2 848.3,1125.9 850.7,1124.6 853.0,1123.9 855.3,1123.4 857.7,1123.9 860.0,1123.2 862.3,1121.7 864.7,1122.0 867.0,1121.0 869.5,1121.1 872.0,1120.2 874.5,1119.2 876.9,1118.9 879.4,1117.8 881.9,1117.8 884.4,1116.1 886.8,1116.4 889.2,1114.9 891.7,1113.6 894.1,1113.2 896.6,1111.5 899.0,1110.6 901.4,1110.4 903.8,1109.5 906.2,1107.8 908.6,1107.1 911.0,1106.3 913.4,1105.8 915.9,1104.9 918.4,1104.8 921.0,1103.8 923.5,1103.4 926.0,1103.0 928.4,1101.4 930.8,1101.5 933.1,1099.7 935.5,1098.8 937.9,1097.9 940.2,1097.3 942.6,1095.6 945.0,1094.7 947.6,1094.8 950.2,1093.7 952.9,1093.2 955.5,1092.6 958.1,1091.4 960.8,1091.5 963.4,1090.6 966.0,1090.5 968.6,1090.1 971.2,1091.4 973.9,1090.8 976.5,1091.5 979.0,1091.1 981.6,1091.1 984.1,1090.5 986.6,1089.8 989.2,1089.7 991.7,1089.3 994.0,1088.8 996.4,1088.5 998.7,1087.0 1001.1,1087.1 1003.4,1086.4 1006.0,1085.7 1008.6,1085.4 1011.2,1085.4 1013.7,1086.0 1016.1,1085.9 1018.5,1086.2 1021.0,1086.4 1023.9,1086.1 1026.8,1085.0 1029.7,1086.5 1032.7,1086.7 1035.6,1087.7 1039.0,1087.2 1042.5,1086.4 1045.1,1085.7 1047.7,1085.1 1050.3,1084.4 1052.7,1085.6 1055.2,1086.3 1057.6,1087.4 1060.0,1088.3 1062.5,1088.3 1064.9,1088.9 1067.3,1088.6 1069.8,1088.3 1072.5,1089.6 1075.3,1090.5 1078.0,1090.3 1080.8,1091.5 1083.5,1092.2 1086.2,1093.4 1088.9,1093.8 1091.6,1093.4 1094.3,1094.0 1097.0,1095.1 1099.2,1096.3 1101.5,1097.0 1103.7,1098.5 1106.0,1099.5 1108.2,1101.6 1110.5,1103.0 1112.7,1103.9 1115.0,1105.4 1117.4,1105.4 1119.7,1107.1 1122.1,1108.0 1124.4,1108.8 1126.6,1109.7 1128.9,1112.1 1131.1,1113.7 1133.3,1114.0 1135.5,1116.4 1137.8,1117.1 1140.0,1118.6 1142.6,1119.5 1145.2,1121.2 1147.8,1122.0 1150.5,1122.0 1153.1,1123.3 1155.7,1124.4 1158.0,1125.5 1160.2,1126.3 1162.5,1127.1 1164.8,1128.3 1167.0,1130.0 1169.3,1130.7 1171.8,1130.9 1174.4,1132.6 1176.9,1133.4 1179.4,1133.7 1181.9,1135.0 1184.5,1136.4 1187.0,1137.1 1189.5,1138.0 1192.0,1138.2 1194.5,1140.3 1197.0,1140.9 1199.5,1142.0 1202.0,1141.6 1204.5,1143.0 1207.0,1143.2 1209.5,1143.5 1212.0,1145.1 1214.5,1144.9 1217.0,1145.3 1219.5,1146.2 1222.0,1146.9" fill="none" stroke="#666666" stroke-width="5.0" stroke-linecap="round" stroke-linejoin="round"/>
<text transform="translate(160.2,303.8) scale(1,1.04)" class="l" font-size="50.3"><tspan>Ni40-(Ce;W)5-Al</tspan><tspan font-size="28.8" dx="0.3" dy="12.1">2</tspan><tspan dx="0.4" dy="-12.1">O</tspan><tspan font-size="28.8" dx="0.3" dy="12.1">3</tspan></text>
<text transform="translate(164.4,486) scale(1,1.04)" class="l" font-size="50.3"><tspan>Ni40-(Ce;W)2-Al</tspan><tspan font-size="28.8" dx="0.3" dy="12.1">2</tspan><tspan dx="0.4" dy="-12.1">O</tspan><tspan font-size="28.8" dx="0.3" dy="12.1">3</tspan></text>
<text transform="translate(161.9,668) scale(1,1.04)" class="l" font-size="50.3"><tspan>Ni40-(Ce;W)1-Al</tspan><tspan font-size="28.8" dx="0.3" dy="12.1">2</tspan><tspan dx="0.4" dy="-12.1">O</tspan><tspan font-size="28.8" dx="0.3" dy="12.1">3</tspan></text>
<text transform="translate(163,862.5) scale(1,1.04)" class="l" font-size="50.3"><tspan>Ni40-Al</tspan><tspan font-size="28.8" dx="0.3" dy="12.1">2</tspan><tspan dx="0.4" dy="-12.1">O</tspan><tspan font-size="28.8" dx="0.3" dy="12.1">3</tspan></text>
<text transform="translate(166,1086) scale(1,1.04)" class="l" font-size="50.3"><tspan>Al</tspan><tspan font-size="28.8" dx="0.3" dy="12.1">2</tspan><tspan dx="0.4" dy="-12.1">O</tspan><tspan font-size="28.8" dx="0.3" dy="12.1">3</tspan></text>
<text transform="translate(622.4,221) scale(1,1.04)" class="l" font-size="50.3"><tspan>(200)NiO</tspan></text>
<text transform="translate(818.2,155.3) scale(1,1.04)" class="l" font-size="50.3"><tspan>(400)NiAl</tspan><tspan font-size="28.8" dx="0.3" dy="12.1">2</tspan><tspan dx="0.4" dy="-12.1">O</tspan><tspan font-size="28.8" dx="0.3" dy="12.1">4</tspan></text>
<text transform="translate(946.7,233.3) scale(1,1.04)" class="l" font-size="50.3"><tspan>(400)Al</tspan><tspan font-size="28.8" dx="0.3" dy="12.1">2</tspan><tspan dx="0.4" dy="-12.1">O</tspan><tspan font-size="28.8" dx="0.3" dy="12.1">3</tspan></text>
<text transform="translate(110,807) rotate(-90) scale(1,1.04)" class="yt">Intensity (a.u.)</text>
<text transform="translate(623.0,1331) scale(1,1.055)" class="xt" font-size="59.5">2</text>
<text transform="translate(656.1,1331.5) scale(1.12,1)" class="serif" font-size="59.5" stroke="#000" stroke-width="0.25">θ</text>
<text transform="translate(703.4,1331.6) scale(1.15,1)" class="serif" font-size="59.5" stroke="#000" stroke-width="0.7">(</text>
<text transform="translate(741.3,1331.6) scale(1.15,1)" class="serif" font-size="59.5" stroke="#000" stroke-width="0.7">)</text>
<text transform="translate(723.5,1313.6) scale(1.05,1)" class="serif" font-size="37" stroke="#000" stroke-width="0.3">o</text>
</svg>
</body></html>
